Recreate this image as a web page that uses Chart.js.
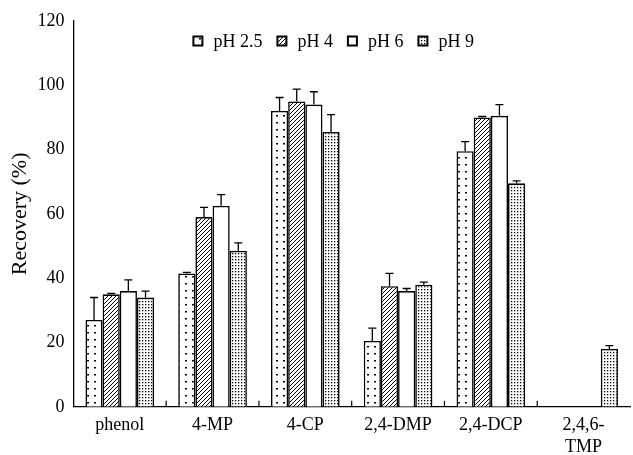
<!DOCTYPE html>
<html><head><meta charset="utf-8">
<script src="https://cdn.jsdelivr.net/npm/chart.js@4/dist/chart.umd.min.js"></script>
<style>html,body{margin:0;padding:0;background:#fff}#wrap{width:633px;height:455px}</style>
</head><body><div id="wrap"><canvas id="c" width="633" height="455"></canvas></div>
<script>
const categories = ['phenol','4-MP','4-CP','2,4-DMP','2,4-DCP',['2,4,6-','TMP']];
const seriesNames = ['pH 2.5','pH 4','pH 6','pH 9'];
const ph25 = [27, 41.5, 92, 20.5, 79.5, 0];
const ph4  = [35, 59, 95, 37.5, 90, 0];
const ph6  = [36, 62.5, 94, 36, 90.5, 0];
const ph9  = [34, 48.5, 85.5, 38, 69.5, 18];
const err25 = [7, 0.3, 4.2, 4, 3, 0];
const err4  = [0.3, 3, 3.8, 4, 0.3, 0];
const err6  = [3.5, 3.5, 4, 0.8, 3.5, 0];
const err9  = [2, 2.5, 5.4, 0.8, 0.8, 1];
const yTicks = [0,20,40,60,80,100,120];

function tile(w,h,draw){const c=document.createElement('canvas');c.width=w;c.height=h;const g=c.getContext('2d');g.fillStyle='#fff';g.fillRect(0,0,w,h);g.fillStyle='#000';g.strokeStyle='#000';draw(g);return document.getElementById('c').getContext('2d').createPattern(c,'repeat');}
const patSparse = tile(7,7,g=>{g.fillRect(3,3,2,1.5);});
const patHatch = tile(4,4,g=>{g.lineWidth=1;g.beginPath();g.moveTo(0,4);g.lineTo(4,0);g.moveTo(-1,1);g.lineTo(1,-1);g.moveTo(3,5);g.lineTo(5,3);g.stroke();});
const patDense = tile(3,3,g=>{g.fillRect(1,1,1.3,1.3);});

const fam='"Liberation Serif","Times New Roman",serif';
const font={family:fam,size:18};
const errs=[err25,err4,err6,err9];
const errorBars={id:'errorBars',afterDatasetsDraw(chart){const ctx=chart.ctx;const y=chart.scales.y;ctx.save();ctx.strokeStyle='#000';ctx.lineWidth=1.3;chart.data.datasets.forEach((ds,di)=>{const meta=chart.getDatasetMeta(di);meta.data.forEach((bar,i)=>{const e=errs[di][i];if(!e||!ds.data[i])return;const top=y.getPixelForValue(ds.data[i]+e);ctx.beginPath();ctx.moveTo(bar.x,bar.y);ctx.lineTo(bar.x,top);ctx.moveTo(bar.x-4,top);ctx.lineTo(bar.x+4,top);ctx.stroke();});});ctx.restore();}};
const catTicks={id:'catTicks',afterDraw(chart){const ctx=chart.ctx;const x=chart.scales.x;const yb=chart.chartArea.bottom;ctx.save();ctx.strokeStyle='#000';ctx.lineWidth=1.2;for(let i=1;i<categories.length;i++){const px=(x.getPixelForValue(i-1)+x.getPixelForValue(i))/2;ctx.beginPath();ctx.moveTo(px,yb);ctx.lineTo(px,yb-6);ctx.stroke();}ctx.restore();}};
const topLegend={id:'topLegend',afterDraw(chart){const ctx=chart.ctx;const a=chart.chartArea;ctx.save();ctx.font=font.size+'px '+fam;ctx.textBaseline='middle';let x=a.left+120;const yc=a.top+20;chart.data.datasets.forEach(ds=>{ctx.fillStyle=ds.backgroundColor;ctx.fillRect(x,yc-4.5,9,9);ctx.strokeStyle='#000';ctx.lineWidth=2;ctx.strokeRect(x,yc-4.5,9,9);ctx.fillStyle='#000';ctx.fillText(ds.label,x+20,yc+1);x+=20+ctx.measureText(ds.label).width+15;});ctx.restore();}};

new Chart(document.getElementById('c'),{
type:'bar',
data:{labels:categories,datasets:[
{label:seriesNames[0],data:ph25,backgroundColor:patSparse,borderColor:'#000',borderWidth:1.6},
{label:seriesNames[1],data:ph4,backgroundColor:patHatch,borderColor:'#000',borderWidth:1.6},
{label:seriesNames[2],data:ph6,backgroundColor:'#fff',borderColor:'#000',borderWidth:1.6},
{label:seriesNames[3],data:ph9,backgroundColor:patDense,borderColor:'#000',borderWidth:1.6}]},
options:{responsive:false,animation:false,devicePixelRatio:1,
layout:{padding:{top:21,right:3,left:7,bottom:-11}},
datasets:{bar:{categoryPercentage:0.74,barPercentage:1}},
plugins:{legend:{display:false},tooltip:{enabled:false}},
scales:{
x:{grid:{display:false,drawTicks:false},border:{color:'#000',width:1.3},ticks:{font:font,color:'#000',padding:8,maxRotation:0,autoSkip:false}},
y:{min:0,max:120,afterBuildTicks:s=>{s.ticks=yTicks.map(v=>({value:v}));},grid:{display:false,drawOnChartArea:false,drawTicks:true,tickLength:6,tickColor:'#000'},border:{color:'#000',width:1.3},ticks:{font:font,color:'#000',padding:3},
title:{display:true,text:'Recovery (%)',font:{family:fam,size:22},color:'#000',padding:{top:0,bottom:1}}}
}},
plugins:[errorBars,catTicks,topLegend]
});
</script></body></html>
